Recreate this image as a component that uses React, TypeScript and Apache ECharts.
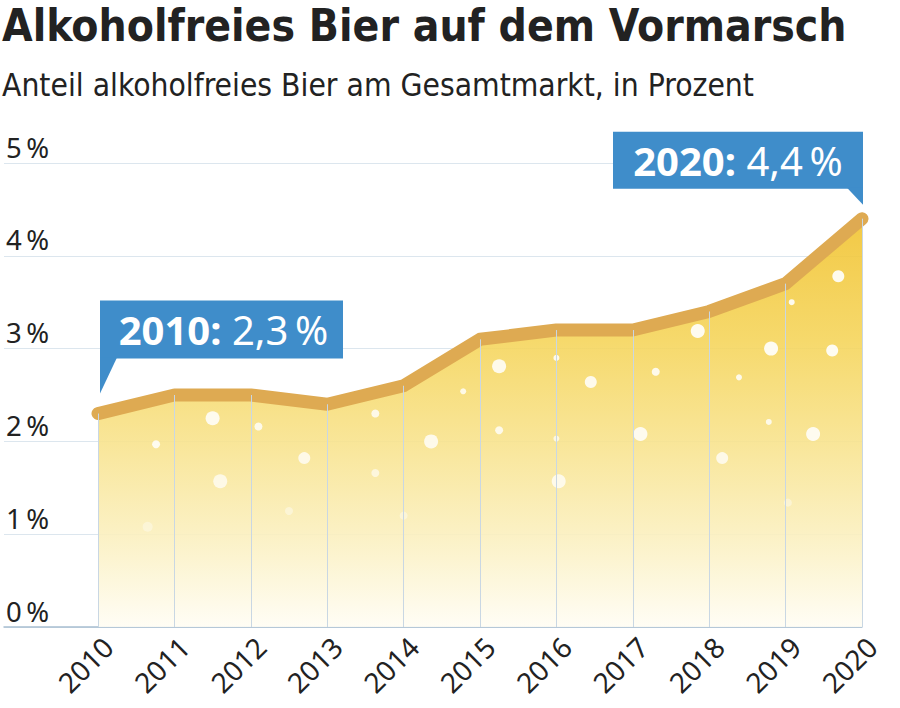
import React, { useEffect, useRef } from 'react';
import * as echarts from 'echarts';

const years = [2010, 2011, 2012, 2013, 2014, 2015, 2016, 2017, 2018, 2019, 2020];
const shares = [2.3, 2.5, 2.5, 2.4, 2.6, 3.1, 3.2, 3.2, 3.4, 3.7, 4.4];
const yTicks = [0, 1, 2, 3, 4, 5];
const titleText = 'Alkoholfreies Bier auf dem Vormarsch';
const subtitleText = 'Anteil alkoholfreies Bier am Gesamtmarkt, in Prozent';
// decorative bubbles: [year position, value, diameter, opacity]
const bubbles = [
  [2010.65, 1.08, 10, 0.35],
  [2010.76, 1.97, 8, 0.85],
  [2011.5, 2.25, 14, 0.85],
  [2011.6, 1.57, 14, 0.7],
  [2012.1, 2.16, 8, 0.8],
  [2012.5, 1.25, 8, 0.4],
  [2012.7, 1.82, 12, 0.75],
  [2013.63, 1.66, 8, 0.6],
  [2013.63, 2.3, 8, 0.8],
  [2014.0, 1.2, 8, 0.4],
  [2014.36, 2.0, 14, 0.8],
  [2014.78, 2.54, 6, 0.8],
  [2015.25, 2.81, 14, 0.85],
  [2015.25, 2.12, 8, 0.8],
  [2016.0, 2.9, 6, 0.85],
  [2016.0, 2.03, 6, 0.7],
  [2016.03, 1.57, 14, 0.75],
  [2016.45, 2.64, 12, 0.85],
  [2017.1, 2.08, 14, 0.85],
  [2017.3, 2.75, 8, 0.85],
  [2017.85, 3.19, 14, 0.9],
  [2018.17, 1.82, 12, 0.75],
  [2018.39, 2.69, 6, 0.85],
  [2018.81, 3.0, 14, 0.9],
  [2018.78, 2.21, 6, 0.8],
  [2019.08, 3.5, 6, 0.9],
  [2019.03, 1.34, 8, 0.4],
  [2019.36, 2.08, 14, 0.85],
  [2019.61, 2.98, 12, 0.9],
  [2019.69, 3.78, 12, 0.9],
];

const NNBSP = '\u202F';
const fmt = (v: number) => String(v).replace('.', ',');
const TITLE_FONT = '"DejaVu Sans Condensed", "Liberation Sans Narrow", sans-serif';
const BODY_FONT = '"Noto Sans", "Open Sans", sans-serif';
const BLUE = '#3F8DCA';

export default function App() {
  const ref = useRef<HTMLDivElement>(null);
  useEffect(() => {
    if (!ref.current) return;
    const chart = echarts.init(ref.current, null, { renderer: 'svg' });
    const minY = yTicks[0];
    const maxY = yTicks[yTicks.length - 1];
    const option: any = {
      animation: false,
      backgroundColor: '#ffffff',
      title: [
        {
          text: titleText,
          left: 2,
          top: 3,
          padding: 0,
          textStyle: { fontFamily: TITLE_FONT, fontWeight: 'bold', fontSize: 44, lineHeight: 44, color: '#222222' },
        },
        {
          text: subtitleText,
          left: 2,
          top: 69,
          padding: 0,
          textStyle: { fontFamily: TITLE_FONT, fontWeight: 'normal', fontSize: 31.5, color: '#222222' },
        },
      ],
      grid: [
        { left: 98, right: 38, top: 163, bottom: 81 },
        { left: 4, right: 38, top: 163, bottom: 81 },
      ],
      xAxis: [
        {
          gridIndex: 0,
          type: 'value',
          min: years[0],
          max: years[years.length - 1],
          interval: 1,
          axisLine: { show: false },
          axisTick: { show: false },
          splitLine: { show: false },
          axisLabel: {
            rotate: 45,
            margin: 5,
            verticalAlign: 'top',
            fontSize: 28,
            fontFamily: BODY_FONT,
            color: '#222222',
            formatter: (v: number) => String(v),
          },
        },
        {
          gridIndex: 1,
          type: 'value',
          min: 0,
          max: 1,
          axisLine: { show: true, lineStyle: { color: '#A8BED1', width: 1.5 } },
          axisTick: { show: false },
          axisLabel: { show: false },
          splitLine: { show: false },
        },
      ],
      yAxis: [
        {
          gridIndex: 0,
          type: 'value',
          min: minY,
          max: maxY,
          interval: 1,
          axisLine: { show: false },
          axisTick: { show: false },
          axisLabel: { show: false },
          splitLine: { show: false },
        },
        {
          gridIndex: 1,
          type: 'value',
          min: minY,
          max: maxY,
          interval: 1,
          axisLine: { show: false },
          axisTick: { show: false },
          splitLine: { show: true, lineStyle: { color: '#DCE6EE', width: 1 } },
          axisLabel: {
            inside: true,
            margin: 2,
            align: 'left',
            verticalAlign: 'bottom',
            lineHeight: 28,
            padding: [0, 0, 2, 0],
            fontSize: 27.5,
            fontFamily: BODY_FONT,
            color: '#222222',
            formatter: (v: number) => v + NNBSP + '%',
          },
        },
      ],
      series: [
        {
          type: 'line',
          xAxisIndex: 0,
          yAxisIndex: 0,
          data: years.map((y, i) => [y, shares[i]]),
          symbol: 'none',
          lineStyle: { width: 0, opacity: 0 },
          areaStyle: {
            opacity: 0.9,
            color: new echarts.graphic.LinearGradient(0, 0, 0, 1, [
              { offset: 0, color: '#F1C331' },
              { offset: 0.3, color: '#F5D55C' },
              { offset: 0.55, color: '#F8E38E' },
              { offset: 0.8, color: '#FBF1C4' },
              { offset: 1, color: '#FFFDF4' },
            ]),
          },
          markLine: {
            silent: true,
            symbol: 'none',
            label: { show: false },
            lineStyle: { color: '#C9D7E3', width: 1, type: 'solid' },
            data: years.map((y, i) => [{ coord: [y, 0] }, { coord: [y, shares[i]] }]),
          },
          z: 2,
        },
        {
          type: 'scatter',
          xAxisIndex: 0,
          yAxisIndex: 0,
          silent: true,
          data: bubbles.map((b) => ({
            value: [b[0], b[1]],
            symbolSize: b[2],
            itemStyle: { color: '#FFFFFF', opacity: b[3] },
          })),
          z: 3,
        },
        {
          type: 'line',
          xAxisIndex: 0,
          yAxisIndex: 0,
          data: years.map((y, i) => [y, shares[i]]),
          symbol: 'none',
          lineStyle: { width: 13, color: '#DEAA52', cap: 'round', join: 'round' },
          z: 4,
        },
      ],
    };
    chart.setOption(option);

    const first = chart.convertToPixel({ gridIndex: 0 }, [years[0], shares[0]]) as number[];
    const lastIdx = years.length - 1;
    const last = chart.convertToPixel({ gridIndex: 0 }, [years[lastIdx], shares[lastIdx]]) as number[];

    const textStyle = (y: number, v: number) => ({
      text: `{b|${y}:\u00A0}{r|${fmt(v)}${NNBSP}%}`,
      fill: '#ffffff',
      rich: {
        b: { fontFamily: BODY_FONT, fontWeight: 'bold', fontSize: 40, fill: '#ffffff' },
        r: { fontFamily: BODY_FONT, fontWeight: 'normal', fontSize: 40, fill: '#ffffff' },
      },
      verticalAlign: 'middle',
      align: 'center',
    });

    // callout 1 (left, pointer at bottom-left)
    const t1x = first[0] + 2;
    const t1y = first[1] - 20;
    const b1h = 58;
    const b1w = 243;
    const b1bottom = t1y - 35;
    // callout 2 (right, pointer at bottom-right)
    const t2x = last[0] + 1;
    const t2y = last[1] - 14;
    const b2h = 57;
    const b2w = 250;
    const b2bottom = t2y - 16;

    chart.setOption({
      graphic: [
        {
          type: 'group',
          z: 100,
          children: [
            { type: 'rect', shape: { x: t1x, y: b1bottom - b1h, width: b1w, height: b1h }, style: { fill: BLUE } },
            { type: 'polygon', shape: { points: [[t1x, b1bottom - 1], [t1x + 17, b1bottom - 1], [t1x, t1y]] }, style: { fill: BLUE } },
            { type: 'text', x: t1x + b1w / 2 + 2, y: b1bottom - b1h / 2, style: textStyle(years[0], shares[0]) },
            { type: 'rect', shape: { x: t2x - b2w, y: b2bottom - b2h, width: b2w, height: b2h }, style: { fill: BLUE } },
            { type: 'polygon', shape: { points: [[t2x - 16, b2bottom - 1], [t2x, b2bottom - 1], [t2x, t2y]] }, style: { fill: BLUE } },
            { type: 'text', x: t2x - b2w / 2, y: b2bottom - b2h / 2, style: textStyle(years[lastIdx], shares[lastIdx]) },
          ],
        },
      ],
    });

    return () => chart.dispose();
  }, []);
  return <div ref={ref} style={{ width: 900, height: 708, position: 'absolute', left: 0, top: 0 }} />;
}
